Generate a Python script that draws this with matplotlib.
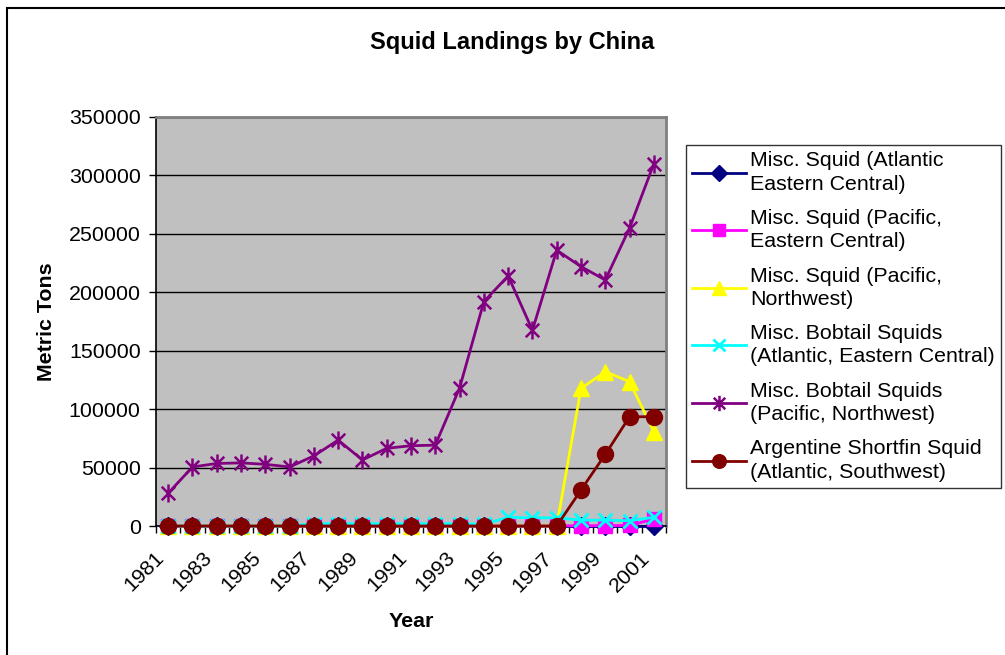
import matplotlib
matplotlib.use("Agg")
import matplotlib.pyplot as plt
from matplotlib.path import Path
from matplotlib.patches import Rectangle
from matplotlib.ticker import FixedLocator, NullFormatter
from matplotlib.transforms import ScaledTranslation

plt.rcParams['font.family'] = ['Liberation Sans', 'DejaVu Sans']

years = list(range(1981, 2002))
tick_labels = [str(y) for y in years[::2]]

misc_atl_ec = [0]*21
misc_pac_ec = [0]*17 + [300, 300, 500, 6000]
misc_pac_nw = [0]*17 + [117800, 132000, 123500, 80700]
bobtail_atl_ec = [0, 0, 0, 0, 0, 0, 2000, 2000, 2000, 2000, 2000, 2000, 2000, 1500,
                  7500, 7000, 7000, 5000, 5000, 4500, 7500]
bobtail_pac_nw = [28000, 50500, 53500, 54000, 52800, 50500, 60000, 73500, 56500, 66500,
                  68700, 69200, 118000, 192000, 214000, 167500, 236000, 222000, 210500,
                  255000, 310000]
argentine = [0]*17 + [30800, 61300, 93500, 93500]

labels = ["Misc. Squid (Atlantic\nEastern Central)",
          "Misc. Squid (Pacific,\nEastern Central)",
          "Misc. Squid (Pacific,\nNorthwest)",
          "Misc. Bobtail Squids\n(Atlantic, Eastern Central)",
          "Misc. Bobtail Squids\n(Pacific, Northwest)",
          "Argentine Shortfin Squid\n(Atlantic, Southwest)"]

star = Path([(0, -1), (0, 1), (-0.75, -0.75), (0.75, 0.75), (-0.75, 0.75), (0.75, -0.75)],
            [Path.MOVETO, Path.LINETO, Path.MOVETO, Path.LINETO, Path.MOVETO, Path.LINETO])

series = [
    (misc_atl_ec, '#000080', 'D', 9, {}),
    (misc_pac_ec, '#FF00FF', 's', 10.5, {}),
    (misc_pac_nw, '#FFFF00', '^', 11.5, {}),
    (bobtail_atl_ec, '#00FFFF', 'x', 10.5, {'markeredgewidth': 2}),
    (bobtail_pac_nw, '#800080', star, 13, {'markeredgewidth': 1.8}),
    (argentine, '#800000', 'o', 11.5, {}),
]

fig = plt.figure(figsize=(10.05, 6.55), dpi=100)
ax = fig.add_axes([156/1005, 1-526/655, 510/1005, 409/655])
ax.set_facecolor('#C0C0C0')

x = list(range(len(years)))
handles = []
for i, (vals, col, mk, ms, kw) in enumerate(series):
    h, = ax.plot(x, vals, color=col, marker=mk, markersize=ms, linewidth=2,
                 markerfacecolor=col, markeredgecolor=col, clip_on=False,
                 zorder=3+i, **kw)
    handles.append(h)

FS = 15.4
ax.set_xlim(-0.5, 20.5)
ax.set_ylim(0, 350000)
ax.set_yticks(range(0, 350001, 50000))
ax.set_yticklabels([str(v) for v in range(0, 350001, 50000)], fontsize=FS)
ax.yaxis.grid(True, color='black', linewidth=1)
ax.set_axisbelow(True)
ax.tick_params(axis='y', direction='out', length=5, width=1, pad=6)

ax.set_xticks(x[::2])
ax.set_xticklabels(tick_labels, fontsize=FS, rotation=45, ha='right', va='top',
                   rotation_mode='anchor')
ax.tick_params(axis='x', which='major', length=0, pad=16)
shift = ScaledTranslation(-14/100, 0, fig.dpi_scale_trans)
for lab in ax.get_xticklabels():
    lab.set_transform(lab.get_transform() + shift)
ax.xaxis.set_minor_locator(FixedLocator([v - 0.5 for v in range(22)]))
ax.xaxis.set_minor_formatter(NullFormatter())
ax.tick_params(axis='x', which='minor', direction='out', length=5, width=1)

for s in ['left', 'bottom']:
    ax.spines[s].set_color('black')
    ax.spines[s].set_linewidth(1.2)
for s in ['top', 'right']:
    ax.spines[s].set_color('#808080')
    ax.spines[s].set_linewidth(2)

ax.set_xlabel('Year', fontsize=FS, fontweight='bold', labelpad=12)
ax.set_ylabel('Metric Tons', fontsize=FS, fontweight='bold', labelpad=9)

fig.text(512/1005, 1-43/655, 'Squid Landings by China', fontsize=17, fontweight='bold',
         ha='center', va='center')

leg = fig.legend(handles, labels, loc='upper left', bbox_to_anchor=(686/1005, 1-145/655),
                 fontsize=FS, frameon=True, fancybox=False, handlelength=2.5,
                 handletextpad=0.2, borderpad=0.3, labelspacing=0.72, borderaxespad=0,
                 markerscale=0.85)
leg.get_frame().set_edgecolor('black')
leg.get_frame().set_linewidth(1)
for t in leg.get_texts():
    t.set_linespacing(1.28)

fig.patches.append(Rectangle((7/1005, -0.1), 1.1, 1.1 - 8/655, transform=fig.transFigure,
                             fill=False, edgecolor='black', linewidth=1.5))

fig.savefig('out.png', dpi=100)
